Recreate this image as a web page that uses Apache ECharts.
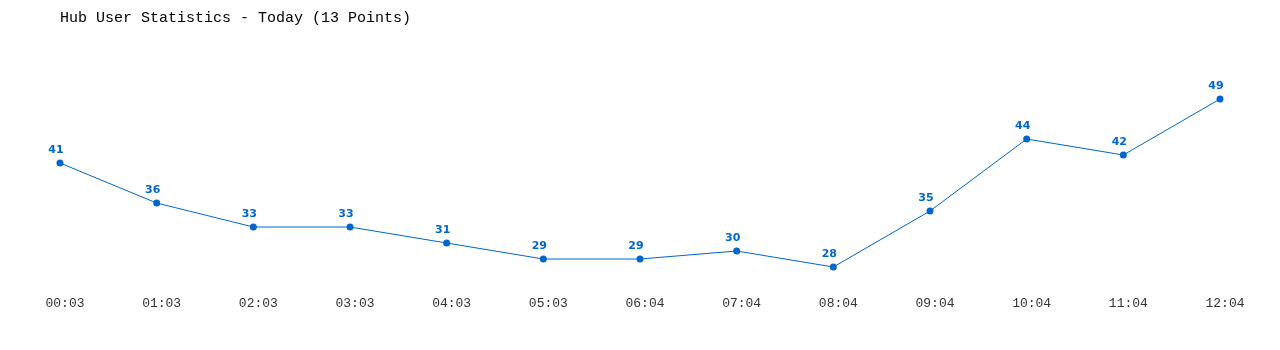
<!DOCTYPE html>
<html>
<head>
<meta charset="utf-8">
<script src="https://cdn.jsdelivr.net/npm/echarts@6/dist/echarts.min.js"></script>
<style>html,body{margin:0;padding:0;background:#fff}#c{width:1280px;height:350px}</style>
</head>
<body>
<div id="c"></div>
<script>
const titleText = 'Hub User Statistics - Today (13 Points)';
const categories = ['00:03','01:03','02:03','03:03','04:03','05:03','06:04','07:04','08:04','09:04','10:04','11:04','12:04'];
const users = [41,36,33,33,31,29,29,30,28,35,44,42,49];

const chart = echarts.init(document.getElementById('c'), null, {renderer:'canvas'});
chart.setOption({
  animation:false,
  backgroundColor:'#fff',
  title:{
    text:titleText, left:55, top:6,
    textStyle:{fontFamily:'Liberation Mono', fontSize:15, fontWeight:'normal', color:'#000'}
  },
  grid:{left:60, right:60, top:51, height:232},
  xAxis:{
    type:'category', data:categories, boundaryGap:false,
    axisLine:{show:false}, axisTick:{show:false}, splitLine:{show:false},
    axisLabel:{fontFamily:'Liberation Mono', fontSize:13, color:'#333', margin:14, padding:[0,0,0,10]}
  },
  yAxis:{
    type:'value', min:26, max:55,
    show:false, splitLine:{show:false}
  },
  series:[{
    type:'line', data:users,
    symbol:'circle', symbolSize:7,
    lineStyle:{color:'#0066cc', width:1},
    itemStyle:{color:'#0066cc'},
    label:{show:true, position:'top', distance:4, offset:[-4,0], color:'#0066cc', fontFamily:'DejaVu Sans', fontWeight:'bold', fontSize:11}
  }]
});
</script>
</body>
</html>
